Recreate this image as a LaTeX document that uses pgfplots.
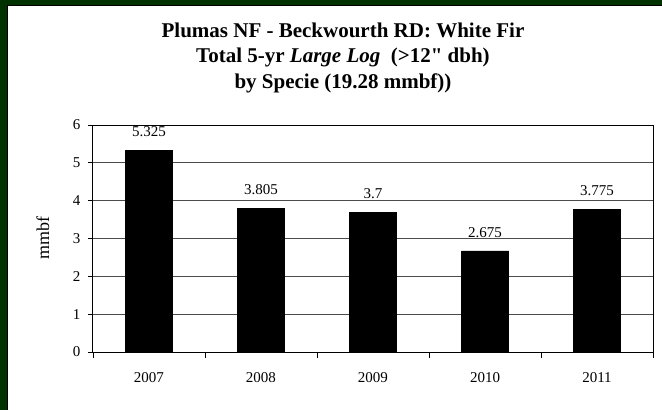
\documentclass[border=0pt]{standalone}
\usepackage{pgfplots}
\pgfplotsset{compat=1.18}
\usepackage{fontspec}
\setmainfont{Liberation Serif}
\newfontfamily\plainserif{Liberation Serif}
\definecolor{bordergreen}{RGB}{0,50,0}
\begin{document}
\begin{tikzpicture}[x=1pt,y=1pt]
\useasboundingbox (-93,-58) rectangle (569,352);
\fill[bordergreen] (-93,-58) rectangle (569,352);
\fill[white] (-85,-58) rectangle (569,347);
\draw[black,line width=1pt] (-85.5,-58) -- (-85.5,346.5) -- (569,346.5);
\begin{axis}[
  at={(0,0)}, anchor=south west,
  scale only axis, width=560pt, height=227pt,
  xmin=0.5, xmax=5.5, ymin=0, ymax=6,
  ytick={0,1,...,6},
  xtick={1,...,5},
  xticklabels={2007,2008,2009,2010,2011},
  minor xtick={0.5,1.5,...,5.5},
  major x tick style={draw=none},
  xtick pos=bottom, ytick pos=left,
  tick align=outside,
  tick style={black, line width=0.8pt},
  major tick length=5pt, minor tick length=6pt,
  ymajorgrids, grid style={black!70, line width=0.8pt},
  axis line style={black, line width=1pt},
  /pgf/number format/assume math mode=true,
  tick label style={font=\fontsize{15}{17}\selectfont},
  yticklabel style={xshift=-4pt},
  xticklabel style={yshift=-12pt},
  ylabel={mmbf},
  ylabel style={at={(axis description cs:-0.0893,0.5)}, anchor=center, font=\fontsize{18}{20}\selectfont},
  nodes near coords,
  every node near coord/.append style={font=\fontsize{15}{17}\selectfont, black, yshift=10pt},
  point meta=explicit symbolic,
]
\addplot[ybar, bar width=47pt, fill=black, draw=black] coordinates {
  (1,5.325) [5.325]
  (2,3.805) [3.805]
  (3,3.7) [3.7]
  (4,2.675) [2.675]
  (5,3.775) [3.775]
};
\end{axis}
\node[font=\bfseries\fontsize{21}{25.5}\selectfont, align=center, anchor=north] at (250,333) {Plumas NF - Beckwourth RD: White Fir\\Total 5-yr \textit{Large Log}\ \ (>12{\plainserif"} dbh)\\by Specie (19.28 mmbf))};
\end{tikzpicture}
\end{document}
